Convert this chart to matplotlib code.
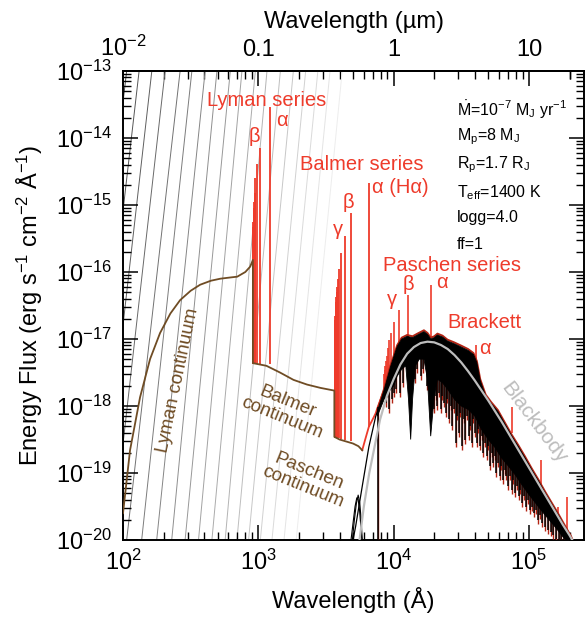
import numpy as np
import matplotlib
matplotlib.use('Agg')
import matplotlib.pyplot as plt
from matplotlib.ticker import LogLocator, NullFormatter, FixedLocator, FixedFormatter

plt.rcParams['font.family'] = ['Liberation Sans', 'DejaVu Sans']
plt.rcParams['mathtext.fontset'] = 'custom'
plt.rcParams['mathtext.rm'] = 'Liberation Sans'
plt.rcParams['mathtext.it'] = 'Liberation Sans:italic'
plt.rcParams['mathtext.bf'] = 'Liberation Sans:bold'
plt.rcParams['mathtext.default'] = 'regular'

RED = '#ee3b2b'
DARKRED = '#b32414'
BROWN = '#6f4c24'
BB_GRAY = '#bdbdbd'

# ---- data (log10 wavelength in Angstrom, log10 flux) ----
# faint gray guide curves: log lambda where they cross 1e-20 and 1e-13
gray_bot = [1.62, 1.72, 1.82, 1.92, 2.027, 2.138, 2.249, 2.360, 2.459, 2.558,
            2.657, 2.755, 2.842, 2.928, 3.015, 3.101, 3.19, 3.28]
gray_top = [2.027, 2.119, 2.213, 2.311, 2.422, 2.509, 2.607, 2.694, 2.793, 2.879,
            2.978, 3.064, 3.163, 3.259, 3.35, 3.44, 3.53, 3.62]

# brown hydrogen continuum (Lyman, Balmer, Paschen)
cont_lw = [2.0, 2.052, 2.126, 2.2, 2.274, 2.35, 2.422, 2.50, 2.570, 2.65, 2.719,
           2.80, 2.844, 2.904, 2.94, 2.96,
           2.96, 3.06, 3.16, 3.26, 3.36, 3.46, 3.562,
           3.562, 3.60, 3.65, 3.70, 3.74, 3.768]
cont_lf = [-19.6, -18.66, -17.87, -17.3, -16.91, -16.62, -16.42, -16.28, -16.19, -16.13, -16.10,
           -16.08, -16.07, -16.0, -15.92, -15.82,
           -17.36, -17.40, -17.50, -17.61, -17.68, -17.73, -17.77,
           -18.46, -18.50, -18.53, -18.56, -18.60, -18.66]

# hydrogen emission lines: wavelength (A), base and peak (log flux)
lyman_wl = [1215.67, 1025.72, 972.54, 949.74, 937.80, 930.75, 926.23, 923.15, 920.96,
            919.35, 918.13, 917.18, 916.43, 915.82, 915.33, 914.92, 914.58, 914.29]
lyman_pk = [-13.53, -14.15, -14.39, -14.60, -14.82, -14.95, -15.05, -15.15, -15.25,
            -15.33, -15.40, -15.45, -15.50, -15.55, -15.60, -15.63, -15.66, -15.70]
lyman_base = -17.38

balmer_wl = [6562.8, 4861.3, 4340.5, 4101.7, 3970.1, 3889.05, 3835.4, 3797.9, 3770.6,
             3750.2, 3734.4, 3721.9, 3712.0, 3703.9, 3697.2, 3691.6, 3686.8]
balmer_pk = [-14.67, -15.12, -15.47, -15.72, -15.95, -16.10, -16.22, -16.30, -16.38,
             -16.45, -16.52, -16.60, -16.66, -16.72, -16.78, -16.84, -16.90]
balmer_base = [-18.31, -18.52, -18.50, -18.49, -18.48, -18.48, -18.48, -18.48, -18.48,
               -18.48, -18.48, -18.48, -18.48, -18.48, -18.48, -18.48, -18.48]

ir_wl = [18751, 12818, 10938, 10049, 9546, 9229, 9015, 8863, 8750, 8665, 8598, 8545,
         40512, 74578, 123720, 163000, 190600]
ir_pk = [-16.20, -16.34, -16.57, -16.75, -16.91, -17.02, -17.14, -17.25, -17.33, -17.40,
         -17.46, -17.52, -17.09, -18.01, -18.80, -19.50, -19.36]
ir_base = [-16.98, -16.97, -17.08, -17.25, -17.40, -17.50, -17.60, -17.70, -17.75, -17.80,
           -17.85, -17.90, -17.30, -18.40, -19.20, -19.65, -19.90]

# red total spectrum where it rises from the Paschen continuum
red_lw = [3.768, 3.79, 3.817, 3.845, 3.867, 3.88, 3.90, 3.93]
red_lf = [-18.66, -18.50, -18.31, -18.20, -18.11, -18.03, -17.92, -17.76]

# photospheric spectrum: upper envelope and lower edge of the dense band
up_lw = [3.88, 3.93, 3.978, 4.027, 4.06, 4.10, 4.14, 4.176, 4.224, 4.25, 4.274, 4.30,
         4.324, 4.361, 4.398, 4.447, 4.50, 4.55, 4.59, 4.615, 4.64, 4.68, 4.72, 4.77,
         4.82, 4.87, 4.92, 4.97, 5.02, 5.07, 5.12, 5.17, 5.22, 5.27, 5.31, 5.34]
up_lf = [-18.08, -17.76, -17.41, -17.11, -17.00, -16.96, -16.98, -16.94, -16.89, -16.93,
         -17.00, -16.98, -16.94, -16.97, -17.03, -17.07, -17.12, -17.17, -17.23, -17.35,
         -17.62, -17.85, -17.96, -18.08, -18.26, -18.44, -18.60, -18.77, -18.95, -19.12,
         -19.30, -19.47, -19.64, -19.82, -19.96, -20.10]
lo_lw = [3.88, 3.93, 3.978, 4.00, 4.027, 4.06, 4.09, 4.11, 4.126, 4.14, 4.16, 4.19,
         4.224, 4.25, 4.274, 4.30, 4.324, 4.36, 4.40, 4.45, 4.50, 4.55, 4.60, 4.65,
         4.70, 4.75, 4.80, 4.85, 4.90, 4.95, 5.00, 5.05, 5.10, 5.15, 5.20, 5.25, 5.30, 5.34]
lo_lf = [-18.15, -17.90, -17.75, -17.70, -17.55, -17.45, -17.40, -17.90, -18.50, -17.90,
         -17.40, -17.30, -17.30, -17.60, -18.45, -17.85, -17.60, -17.65, -17.75, -17.90,
         -18.00, -18.05, -18.15, -18.35, -18.50, -18.62, -18.78, -18.90, -19.03, -19.18,
         -19.32, -19.45, -19.58, -19.70, -19.82, -19.95, -20.05, -20.15]

# absorption features hanging below the dense band
dip_lw = [3.886, 3.94, 3.952, 3.965, 3.99, 4.005, 4.02, 4.05, 4.07, 4.16, 4.175, 4.20,
          4.215, 4.245, 4.30, 4.31, 4.322, 4.335, 4.347, 4.36, 4.372, 4.385, 4.397,
          4.41, 4.423, 4.434, 4.446, 4.458, 4.47, 4.482, 4.494, 4.506, 4.518, 4.53,
          4.542, 4.554, 4.566, 4.578, 4.59, 4.602, 4.614, 4.627, 4.64, 4.652, 4.664,
          4.676, 4.688, 4.70, 4.712, 4.724, 4.736, 4.748, 4.76, 4.772, 4.784, 4.796,
          4.808, 4.82, 4.833, 4.846, 4.859, 4.872, 4.885, 4.898, 4.911, 4.924, 4.937,
          4.95, 4.965, 4.98, 4.995, 5.01, 5.025, 5.04, 5.055, 5.07, 5.085, 5.10, 5.12,
          5.14, 5.16, 5.18, 5.20, 5.22, 5.24, 5.26]
dip_lf = [-20.00, -17.95, -17.80, -18.05, -17.90, -17.80, -17.75, -17.80, -17.65, -17.60,
          -17.45, -17.55, -17.45, -17.70, -18.05, -17.85, -18.00, -17.80, -18.05, -17.85,
          -17.95, -18.10, -17.90, -18.20, -18.00, -18.30, -18.05, -18.55, -18.15, -18.40,
          -18.10, -18.60, -18.20, -18.50, -18.15, -18.45, -18.30, -18.55, -18.20, -18.40,
          -18.55, -18.35, -18.60, -18.45, -18.70, -18.55, -18.75, -18.60, -18.90, -18.70,
          -18.85, -18.75, -19.00, -18.85, -19.05, -18.90, -19.10, -18.95, -19.05, -19.20,
          -19.05, -19.25, -19.10, -19.30, -19.20, -19.35, -19.25, -19.45, -19.35, -19.50,
          -19.40, -19.55, -19.50, -19.60, -19.55, -19.70, -19.62, -19.75, -19.80, -19.85,
          -19.88, -19.92, -19.98, -20.02, -20.05, -20.10]

# thin photospheric line on the Wien side and the small bump near 0.5 um
wien_lw = [3.70, 3.719, 3.768, 3.817, 3.867, 3.88]
wien_lf = [-20.0, -19.80, -19.20, -18.61, -18.16, -18.08]
bump1_lw = [3.685, 3.70, 3.715, 3.728, 3.738, 3.748, 3.758, 3.766]
bump1_lf = [-20.0, -19.75, -19.50, -19.37, -19.40, -19.55, -19.80, -20.0]
bump2_lw = [3.695, 3.71, 3.725, 3.738, 3.75, 3.76, 3.768]
bump2_lf = [-20.0, -19.70, -19.45, -19.33, -19.45, -19.70, -20.0]

# blackbody (gray)
bb_lw = [3.748, 3.78, 3.82, 3.86, 3.90, 3.95, 4.00, 4.05, 4.10, 4.15, 4.20, 4.25, 4.30,
         4.35, 4.40, 4.45, 4.50, 4.55, 4.60, 4.65, 4.70, 4.75, 4.80, 4.85, 4.90, 4.95,
         5.00, 5.05, 5.10, 5.15, 5.20, 5.25, 5.30, 5.335]
bb_lf = [-20.0, -19.5, -19.0, -18.6, -18.2, -17.85, -17.6, -17.38, -17.22, -17.12,
         -17.06, -17.04, -17.05, -17.09, -17.15, -17.24, -17.35, -17.48, -17.62, -17.77,
         -17.92, -18.08, -18.24, -18.41, -18.58, -18.75, -18.92, -19.09, -19.26, -19.43,
         -19.60, -19.77, -19.93, -20.05]

params = ['$\\dot{M}$=10$^{-7}$ M$_J$ yr$^{-1}$', 'M$_p$=8 M$_J$', 'R$_p$=1.7 R$_J$',
          'T$_{eff}$=1400 K', 'logg=4.0', 'ff=1']


def p(a):
    return 10.0 ** np.asarray(a)


fig = plt.figure(figsize=(5.85, 6.23), dpi=100)
ax = fig.add_axes([123 / 585, 83 / 623, 461 / 585, 469 / 623])
ax.set_xscale('log')
ax.set_yscale('log')
ax.set_xlim(100, 10 ** 5.407)
ax.set_ylim(1e-20, 1e-13)

# gray guide curves, fading to the right
shades = np.linspace(0.30, 0.93, len(gray_bot))
for b, t, s in zip(gray_bot, gray_top, shades):
    ax.plot(p([b, t]), [1e-20, 1e-13], color=str(s), lw=0.7, zorder=1)

# continuum
ax.plot(p(cont_lw), p(cont_lf), color=BROWN, lw=1.3, zorder=3)

# emission lines
ax.vlines(lyman_wl, p(lyman_base), p(lyman_pk), color=RED, lw=1.3, zorder=2)
ax.vlines(balmer_wl, p(balmer_base), p(balmer_pk), color=RED, lw=1.3, zorder=2)
ax.vlines(ir_wl, p(ir_base), p(ir_pk), color=RED, lw=1.2, zorder=2)
ax.plot(p(red_lw), p(red_lf), color=RED, lw=1.3, zorder=2)
ax.plot(p(up_lw), p(np.array(up_lf) + 0.02), color=DARKRED, lw=1.4, zorder=2)

# photosphere
dip_top = p(np.interp(dip_lw, lo_lw, lo_lf) + 0.1)
ax.vlines(p(dip_lw), dip_top, p(np.array(dip_lf) - 0.06), color=DARKRED, lw=1.0, zorder=3)
ax.vlines(p(dip_lw), dip_top, p(dip_lf), color='k', lw=1.1, zorder=4)
poly_x = np.concatenate([p(up_lw), p(lo_lw[::-1])])
poly_y = np.concatenate([p(up_lf), p(lo_lf[::-1])])
ax.fill(poly_x, poly_y, color='k', lw=0.6, zorder=4)
ax.plot(p(wien_lw), p(wien_lf), color='k', lw=0.9, zorder=4)
ax.plot(p(bump1_lw), p(bump1_lf), color='k', lw=0.8, zorder=4)
ax.plot(p(bump2_lw), p(bump2_lf), color='k', lw=0.8, zorder=4)

# blackbody
ax.plot(p(bb_lw), p(bb_lf), color=BB_GRAY, lw=1.6, zorder=5)

# axes styling
for s in ax.spines.values():
    s.set_linewidth(1.4)
ax.xaxis.set_major_locator(LogLocator(base=10, numticks=10))
ax.xaxis.set_minor_locator(LogLocator(base=10, subs=np.arange(2, 10), numticks=20))
ax.xaxis.set_minor_formatter(NullFormatter())
ax.yaxis.set_major_locator(LogLocator(base=10, numticks=10))
ax.yaxis.set_minor_locator(LogLocator(base=10, subs=np.arange(2, 10), numticks=20))
ax.yaxis.set_minor_formatter(NullFormatter())
ax.tick_params(which='both', direction='in', top=False, right=True, labelsize=17)
ax.tick_params(which='major', length=11, width=1.1, pad=7)
ax.tick_params(which='minor', length=5.5, width=1.0)
ax.tick_params(axis='y', which='major', pad=8)

sec = ax.secondary_xaxis('top', functions=(lambda x: x / 1e4, lambda x: x * 1e4))
sec.xaxis.set_major_locator(FixedLocator([0.01, 0.1, 1, 10]))
sec.xaxis.set_major_formatter(FixedFormatter(['$10^{-2}$', '0.1', '1', '10']))
sec.xaxis.set_minor_locator(FixedLocator([k * 10.0 ** d for d in (-2, -1, 0, 1)
                                           for k in range(2, 10)] + [20]))
sec.xaxis.set_minor_formatter(NullFormatter())
sec.tick_params(which='both', direction='in', labelsize=17)
sec.tick_params(which='major', length=11, width=1.1, pad=7)
sec.tick_params(which='minor', length=5.5, width=1.0)
sec.spines['top'].set_linewidth(1.4)
sec.set_xlabel('Wavelength (µm)', fontsize=17, labelpad=6)

ax.set_xlabel('Wavelength (Å)', fontsize=17)
ax.xaxis.set_label_coords(0.5, -0.1)
ax.set_ylabel('Energy Flux (erg s$^{-1}$ cm$^{-2}$ Å$^{-1}$)', fontsize=17)
ax.yaxis.set_label_coords(-0.17, 0.5)

# annotations
for i, t in enumerate(params):
    ax.text(0.7245, [0.917, 0.859, 0.800, 0.740, 0.687, 0.629][i], t, fontsize=11.5,
            transform=ax.transAxes, ha='left', va='center', zorder=6)

red_labels = [('Lyman series', 0.312, 0.938), ('β', 0.286, 0.860), ('α', 0.344, 0.895),
              ('Balmer series', 0.517, 0.800), ('α (Hα)', 0.601, 0.751),
              ('β', 0.488, 0.719), ('γ', 0.466, 0.661),
              ('Paschen series', 0.7126, 0.586), ('γ', 0.5835, 0.512),
              ('β', 0.618, 0.544), ('α', 0.692, 0.548),
              ('Brackett', 0.785, 0.463), ('α', 0.785, 0.409)]
for t, x, y in red_labels:
    ax.text(x, y, t, color=RED, fontsize=14.5, ha='center', va='center',
            transform=ax.transAxes, zorder=6)

ax.text(0.119, 0.341, 'Lyman continuum', color=BROWN, fontsize=13.5, rotation=78,
        ha='center', va='center', transform=ax.transAxes, rotation_mode='anchor')
ax.text(0.351, 0.277, 'Balmer\ncontinuum', color=BROWN, fontsize=13.5, rotation=-22,
        ha='center', va='center', transform=ax.transAxes, rotation_mode='anchor',
        linespacing=1.0)
ax.text(0.397, 0.130, 'Paschen\ncontinuum', color=BROWN, fontsize=13.5, rotation=-22,
        ha='center', va='center', transform=ax.transAxes, rotation_mode='anchor',
        linespacing=1.0)
ax.text(0.8915, 0.2495, 'Blackbody', color=BB_GRAY, fontsize=15, rotation=-53,
        ha='center', va='center', transform=ax.transAxes, rotation_mode='anchor')

fig.savefig('out.png', dpi=100)
